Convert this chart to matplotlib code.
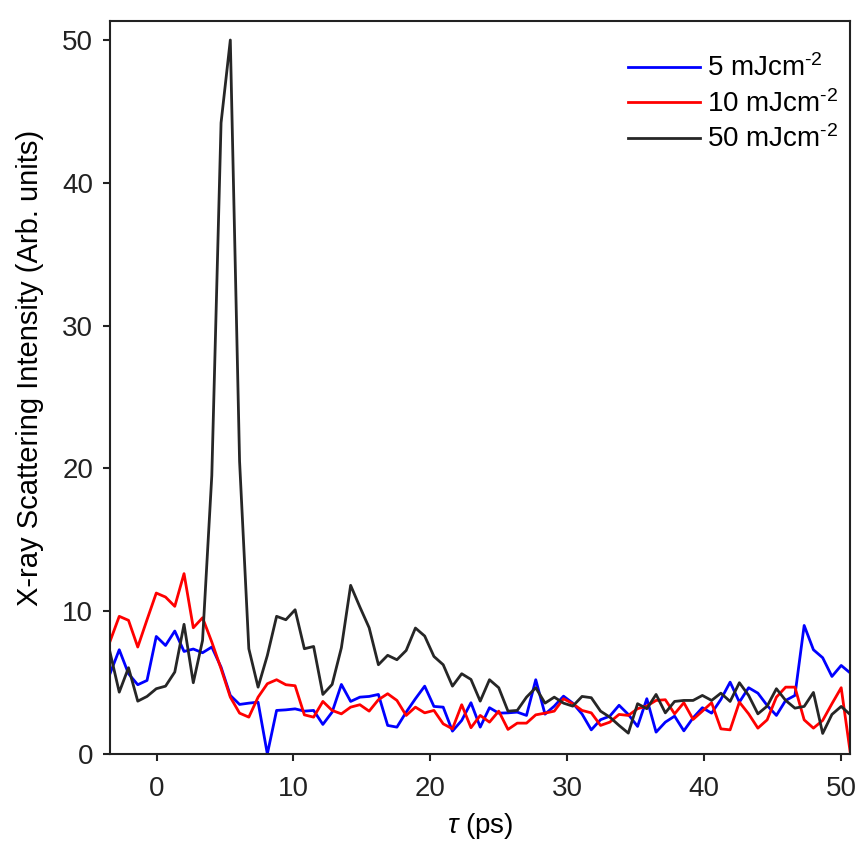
import numpy as np
import matplotlib
matplotlib.use('Agg')
import matplotlib.pyplot as plt

plt.rcParams['font.family'] = ['Liberation Sans', 'DejaVu Sans']
plt.rcParams['mathtext.fontset'] = 'custom'
plt.rcParams['mathtext.rm'] = 'Liberation Sans'
plt.rcParams['mathtext.it'] = 'Liberation Sans:italic'

# delay axis (ps), 81 evenly spaced samples
tau = np.linspace(-3.4, 50.7, 81)

# 5 mJ/cm^2
blue = [5.62, 7.30, 5.62, 4.85, 5.15, 8.23, 7.60, 8.61, 7.18, 7.35,
        7.09, 7.49, 6.08, 4.10, 3.47, 3.56, 3.63, 0.00, 3.05, 3.09,
        3.16, 3.00, 3.05, 2.07, 2.93, 4.87, 3.68, 3.98,
        4.03, 4.17, 2.00, 1.88, 2.93, 3.87, 4.75, 3.33, 3.28, 1.60,
        2.35, 3.59, 1.88, 3.24, 2.86, 2.88, 2.93, 2.70, 5.20, 2.79,
        3.35, 4.05, 3.56,
        2.80, 1.69, 2.40, 2.65, 3.41, 2.77, 1.93, 3.87, 1.53, 2.23,
        2.65, 1.62, 2.53, 3.24, 2.86, 3.82, 5.03, 3.63, 4.64, 4.26,
        3.40, 2.70, 3.75, 4.10, 9.00, 7.30, 6.74, 5.43, 6.20, 5.66]

# 10 mJ/cm^2
red = [7.88, 9.64, 9.36, 7.49, 9.40, 11.27, 10.99, 10.34, 12.63, 8.84,
       9.54, 7.84, 5.97, 3.98, 2.86, 2.58, 3.98, 4.92, 5.20, 4.85,
       4.78, 2.74, 2.58, 3.68, 3.05, 2.81, 3.28, 3.45,
       3.00, 3.80, 4.22, 3.75, 2.70, 3.28, 2.88, 3.05, 2.11, 1.76,
       3.45, 1.84, 2.70, 2.23, 3.00, 1.72, 2.16, 2.16, 2.74, 2.86,
       3.00, 3.87, 3.52,
       3.05, 2.88, 2.00, 2.23, 2.77, 2.70, 3.17, 3.36, 3.75, 3.80,
       2.81, 3.59, 2.42, 3.00, 3.59, 1.76, 1.69, 3.63, 2.81, 1.81,
       2.39, 3.98, 4.68, 4.68, 2.39, 1.81, 2.35, 3.52, 4.64, 0.00]

# 50 mJ/cm^2
black = [7.13, 4.33, 6.04, 3.70, 4.03, 4.57, 4.75, 5.74, 9.08, 4.99,
         7.95, 19.5, 44.2, 50.0, 20.5, 7.37, 4.68, 6.90, 9.64, 9.40,
         10.1, 7.37, 7.53, 4.17, 4.87, 7.44, 11.81, 10.29,
         8.84, 6.25, 6.91, 6.60, 7.25, 8.82, 8.26, 6.83, 6.25, 4.75,
         5.62, 5.22, 3.70, 5.20, 4.64, 3.00, 3.05, 3.98, 4.64, 3.56,
         3.98, 3.56, 3.35,
         4.03, 3.94, 3.00, 2.58, 2.00, 1.46, 3.52, 3.17, 4.17, 2.88,
         3.68, 3.75, 3.75, 4.10, 3.75, 4.26, 3.68, 4.99, 4.10, 2.81,
         3.35, 4.57, 3.75, 3.21, 3.33, 4.31, 1.44, 2.77, 3.33, 2.74]

labels = ['5 mJcm$^{\u20102}$', '10 mJcm$^{\u20102}$', '50 mJcm$^{\u20102}$']
colors = ['#0000ff', '#ff0000', '#262626']

fig = plt.figure(figsize=(8.62, 8.43), dpi=100)
ax = fig.add_axes([0.1276, 0.1056, 0.859, 0.8698])

for ys, lab, c in zip([blue, red, black], labels, colors):
    ax.plot(tau, ys, color=c, lw=2.0, label=lab)

ax.set_xlim(tau[0], tau[-1])
ax.set_ylim(0, 51.35)
ax.set_xticks([0, 10, 20, 30, 40, 50])
ax.set_yticks([0, 10, 20, 30, 40, 50])
ax.tick_params(direction='out', length=5, width=1.5, labelsize=20,
               colors='#222222')
ax.tick_params(axis='x', pad=11)
ax.tick_params(axis='y', pad=7)
for s in ax.spines.values():
    s.set_linewidth(1.5)
    s.set_color('#222222')

ax.set_xlabel(r'$\it{\tau}$ (ps)', fontsize=20, labelpad=6)
ax.set_ylabel('X-ray Scattering Intensity (Arb. units)', fontsize=21)
ax.yaxis.set_label_coords(-0.089, 0.527)

ax.legend(loc='upper right', bbox_to_anchor=(1.0, 0.971), frameon=False,
          fontsize=20, handlelength=2.6, handletextpad=0.25,
          labelspacing=0.28, borderaxespad=0.05)

fig.savefig('out.png', dpi=100)
